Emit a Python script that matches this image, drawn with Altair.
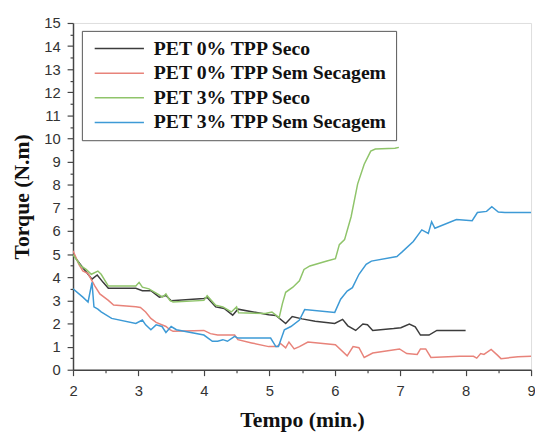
import altair as alt
import pandas as pd

series_names = [
    "PET 0% TPP Seco",
    "PET 0% TPP Sem Secagem",
    "PET 3% TPP Seco",
    "PET 3% TPP Sem Secagem",
]
series_colors = ["#3c3c3c", "#e8837a", "#8fc46a", "#3d9ad6"]

x_black = [2.0, 2.15, 2.23, 2.29, 2.37, 2.46, 2.54, 2.96, 3.06, 3.19, 3.32, 3.42, 3.5, 4.0, 4.05,
           4.18, 4.31, 4.44, 4.52, 4.99, 5.1, 5.25, 5.35, 5.5, 5.7, 6.0, 6.12, 6.2, 6.32, 6.43,
           6.5, 6.58, 6.9, 7.01, 7.14, 7.23, 7.31, 7.44, 7.56, 8.0]
y_black = [4.98, 4.41, 4.13, 3.92, 4.1, 3.78, 3.52, 3.52, 3.42, 3.42, 3.14, 3.21, 2.98, 3.08, 3.12,
           2.72, 2.65, 2.36, 2.62, 2.38, 2.35, 2.0, 2.3, 2.2, 2.1, 2.0, 2.18, 1.9, 1.7, 1.98,
           1.95, 1.7, 1.78, 1.82, 1.98, 1.86, 1.5, 1.5, 1.7, 1.7]

x_red = [2.0, 2.09, 2.15, 2.23, 2.33, 2.41, 2.54, 2.62, 2.96, 3.03, 3.11, 3.19, 3.27, 3.42, 3.48,
         3.53, 4.0, 4.1, 4.21, 4.47, 4.52, 4.73, 4.99, 5.12, 5.17, 5.25, 5.3, 5.38, 5.46, 5.59,
         6.01, 6.19, 6.28, 6.37, 6.45, 6.58, 6.99, 7.1, 7.26, 7.31, 7.39, 7.47, 7.91, 8.12, 8.17,
         8.23, 8.28, 8.39, 8.49, 8.54, 8.8, 9.0]
y_red = [5.15, 4.56, 4.27, 4.16, 3.64, 3.28, 3.0, 2.8, 2.72, 2.69, 2.5, 2.22, 2.05, 1.87, 1.73,
         1.66, 1.7, 1.56, 1.5, 1.5, 1.3, 1.16, 1.0, 1.0, 1.14, 0.95, 1.2, 0.9, 1.0, 1.2,
         1.08, 0.6, 1.0, 0.95, 0.53, 0.72, 0.9, 0.7, 0.66, 0.9, 0.9, 0.53, 0.58, 0.58, 0.5,
         0.7, 0.66, 0.88, 0.62, 0.48, 0.56, 0.58]

x_green = [2.0, 2.12, 2.2, 2.28, 2.38, 2.43, 2.54, 2.96, 3.01, 3.06, 3.16, 3.29, 3.37, 3.42, 3.48,
           3.53, 4.0, 4.05, 4.18, 4.29, 4.42, 4.5, 4.53, 4.94, 5.04, 5.1, 5.15, 5.2, 5.25, 5.36,
           5.46, 5.53, 5.62, 5.88, 6.01, 6.07, 6.15, 6.25, 6.35, 6.45, 6.55, 6.62, 6.92, 6.98]
y_green = [4.98, 4.49, 4.34, 4.13, 4.27, 4.13, 3.62, 3.62, 3.78, 3.57, 3.5, 3.28, 3.14, 3.28, 3.0,
           2.93, 3.0, 3.2, 2.79, 2.72, 2.5, 2.72, 2.46, 2.43, 2.5, 2.36, 2.25, 2.86, 3.35, 3.57,
           3.85, 4.34, 4.49, 4.7, 4.8, 5.41, 5.63, 6.62, 8.04, 8.89, 9.46, 9.55, 9.58, 9.62]

x_blue = [2.0, 2.15, 2.23, 2.29, 2.32, 2.38, 2.43, 2.59, 2.96, 3.06, 3.11, 3.19, 3.27, 3.36, 3.42,
          3.5, 3.58, 4.0, 4.13, 4.21, 4.29, 4.36, 4.47, 4.52, 5.02, 5.1, 5.14, 5.23, 5.33, 5.46,
          5.54, 6.0, 6.09, 6.19, 6.27, 6.37, 6.48, 6.56, 6.95, 7.03, 7.2, 7.33, 7.43, 7.48, 7.53,
          7.86, 8.1, 8.18, 8.32, 8.4, 8.5, 8.6, 9.0]
y_blue = [3.5, 3.14, 2.93, 3.78, 2.72, 2.62, 2.5, 2.22, 2.0, 2.15, 1.94, 1.73, 1.94, 1.87, 1.61,
          1.87, 1.73, 1.5, 1.23, 1.23, 1.3, 1.23, 1.44, 1.37, 1.37, 1.0, 1.0, 1.73, 1.87, 2.15,
          2.6, 2.48, 3.05, 3.4, 3.55, 4.13, 4.56, 4.7, 4.9, 5.1, 5.55, 6.05, 5.9, 6.4, 6.12,
          6.5, 6.45, 6.8, 6.85, 7.05, 6.82, 6.8, 6.8]

xs = [x_black, x_red, x_green, x_blue]
ys = [y_black, y_red, y_green, y_blue]

rows = []
for name, xv, yv in zip(series_names, xs, ys):
    for i, (a, b) in enumerate(zip(xv, yv)):
        rows.append({"serie": name, "tempo": a, "torque": b, "ordem": i})
df = pd.DataFrame(rows)

x_ticks = [2 + 0.5 * i for i in range(15)]
y_ticks = [0.5 * i for i in range(31)]

label_font = "Liberation Sans"
title_font = "Liberation Serif"
int_label = "datum.value % 1 === 0 ? format(datum.value, 'd') : ''"
tick_len = {"condition": {"test": "datum.value % 1 === 0", "value": 6}, "value": 3}

x_axis = alt.Axis(
    values=x_ticks,
    labelExpr=int_label,
    tickSize=tick_len,
    grid=False,
    title="Tempo (min.)",
    titleFont=title_font,
    titleFontSize=22,
    titleFontWeight="bold",
    titleColor="#111111",
    titleBaseline="alphabetic",
    titleY=58,
    labelFont=label_font,
    labelFontSize=15,
    labelColor="#333333",
    labelPadding=8,
    labelFlush=False,
    domainColor="#444444",
    domainWidth=1.5,
    tickColor="#444444",
    tickWidth=1.2,
)

y_axis = alt.Axis(
    values=y_ticks,
    labelExpr=int_label,
    tickSize=tick_len,
    grid=False,
    title="Torque (N.m)",
    titleFont=title_font,
    titleFontSize=22,
    titleFontWeight="bold",
    titleColor="#111111",
    titleBaseline="alphabetic",
    titleX=-45,
    titleY=176,
    labelFont=label_font,
    labelFontSize=15,
    labelColor="#333333",
    labelPadding=7,
    labelFlush=False,
    domainColor="#444444",
    domainWidth=1.5,
    tickColor="#444444",
    tickWidth=1.2,
)

legend = alt.Legend(
    title=None,
    orient="none",
    legendX=9,
    legendY=8,
    symbolType="M-1,0H9",
    symbolSize=100,
    symbolStrokeWidth=1.5,
    labelOffset=45,
    labelFont=title_font,
    labelFontSize=20,
    labelFontWeight="bold",
    labelColor="#111111",
    labelLimit=400,
    rowPadding=5,
    padding=8,
    strokeColor="#555555",
    fillColor="#ffffff",
)

chart = (
    alt.Chart(df)
    .mark_line(strokeWidth=1.5, clip=True)
    .encode(
        x=alt.X("tempo:Q", scale=alt.Scale(domain=[2, 9], nice=False, zero=False), axis=x_axis),
        y=alt.Y("torque:Q", scale=alt.Scale(domain=[0, 15], nice=False), axis=y_axis),
        color=alt.Color(
            "serie:N",
            scale=alt.Scale(domain=series_names, range=series_colors),
            sort=series_names,
            legend=legend,
        ),
        order="ordem:Q",
    )
    .properties(
        width=465,
        height=352,
        autosize=alt.AutoSizeParams(type="none"),
        padding={"left": 66, "top": 12, "right": 4, "bottom": 60},
    )
    .configure_view(stroke="#444444", strokeWidth=1.5)
    .configure(background="#ffffff")
)

chart.save("out.html", embed_options={"renderer": "svg", "actions": False})
